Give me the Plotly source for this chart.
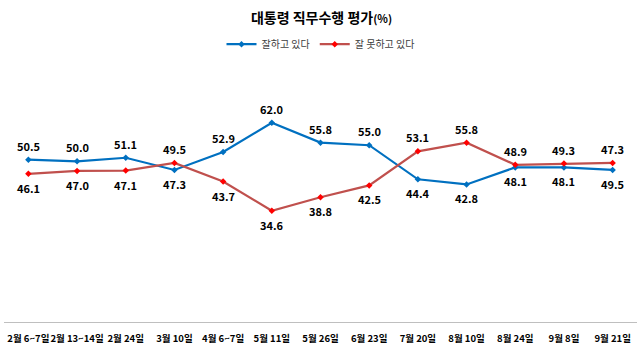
import plotly.graph_objects as go

categories = ["2월 6~7일", "2월 13~14일", "2월 24일", "3월 10일", "4월 6~7일", "5월 11일",
              "5월 26일", "6월 23일", "7월 20일", "8월 10일", "8월 24일", "9월 8일", "9월 21일"]

# plotted positions
good_values = [50.5, 50.0, 51.1, 47.3, 52.9, 62.0, 55.8, 55.0, 44.4, 42.8, 48.1, 48.1, 47.3]
bad_values = [46.1, 47.0, 47.1, 49.5, 43.7, 34.6, 38.8, 42.5, 53.1, 55.8, 48.9, 49.3, 49.5]

# data labels as printed in the picture
good_labels = ["50.5", "50.0", "51.1", "47.3", "52.9", "62.0", "55.8", "55.0", "44.4", "42.8", "48.1", "48.1", "49.5"]
bad_labels = ["46.1", "47.0", "47.1", "49.5", "43.7", "34.6", "38.8", "42.5", "53.1", "55.8", "48.9", "49.3", "47.3"]

FONT = "Noto Sans CJK KR"
BLUE = "#0070C0"
RED_LINE = "#C0504D"
RED_MARK = "#FF0000"

fig = go.Figure()
fig.add_trace(go.Scatter(
    x=categories, y=good_values, name="잘하고 있다", mode="lines+markers",
    line=dict(color=BLUE, width=2.2), marker=dict(symbol="diamond", size=5, color=BLUE),
    cliponaxis=False,
))
fig.add_trace(go.Scatter(
    x=categories, y=bad_values, name="잘 못하고 있다", mode="lines+markers",
    line=dict(color=RED_LINE, width=2.2), marker=dict(symbol="diamond", size=5, color=RED_MARK),
    cliponaxis=False,
))

for cat, g, b, gl, bl in zip(categories, good_values, bad_values, good_labels, bad_labels):
    g_up = g >= b
    for val, lab, up in ((g, gl, g_up), (b, bl, not g_up)):
        fig.add_annotation(x=cat, y=val, text=f"<b>{lab}</b>", showarrow=False,
                           yshift=14 if up else -14, xanchor="center", yanchor="middle",
                           font=dict(family=FONT, size=11, color="#000000"))

fig.update_layout(
    width=643, height=358,
    margin=dict(l=4, r=6, t=97, b=36, autoexpand=False),
    paper_bgcolor="white", plot_bgcolor="white",
    title=dict(text="<b>대통령 직무수행 평가<span style='font-size:11px'>(%)</span></b>",
               x=0.5, xanchor="center", y=0.95, yanchor="middle",
               font=dict(family=FONT, size=14, color="#000000")),
    legend=dict(orientation="h", x=0.5, xanchor="center", y=1.235, yanchor="middle",
                font=dict(family=FONT, size=10, color="#404040"),
                itemwidth=30, tracegroupgap=0),
    showlegend=True,
    xaxis=dict(showgrid=False, showline=True, linecolor="#BFBFBF", linewidth=1.3,
               ticks="", tickangle=0, automargin=False, ticklabelstandoff=7,
               tickfont=dict(family=FONT, size=9.5, color="#000000", weight="bold"),
               range=[-0.5, len(categories) - 0.5]),
    yaxis=dict(range=[0, 70], showgrid=False, showline=False, showticklabels=False,
               zeroline=False, ticks="", automargin=False),
)

fig.write_html("out.html", config={"displayModeBar": False},
               post_script="document.body.style.margin='0';document.body.style.overflow='hidden';")
